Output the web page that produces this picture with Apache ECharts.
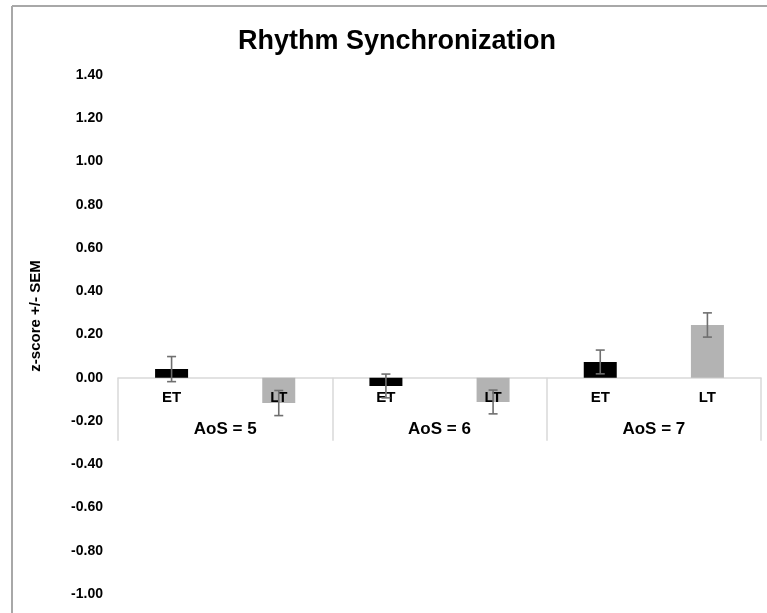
<!DOCTYPE html>
<html>
<head>
<meta charset="utf-8">
<script src="https://cdn.jsdelivr.net/npm/echarts@6/dist/echarts.min.js"></script>
<style>
html,body{margin:0;padding:0;background:#fff;}
#chart{width:767px;height:613px;}
</style>
</head>
<body>
<div id="chart"></div>
<script>
// ---- data ----
var groups = ['AoS = 5', 'AoS = 6', 'AoS = 7'];
var conditions = ['ET', 'LT'];
var etMeans = [0.04, -0.038, 0.073];
var ltMeans = [-0.117, -0.112, 0.244];
var etSem = [0.058, 0.055, 0.055];
var ltSem = [0.058, 0.055, 0.056];
var yMin = -1.0, yMax = 1.4, yStep = 0.2;

var colors = { ET: '#000000', LT: '#b3b3b3' };

// flatten into 6 sub-categories
var cats = [], barData = [], errData = [];
groups.forEach(function (g, gi) {
  conditions.forEach(function (c) {
    var idx = cats.length;
    cats.push(c);
    var m = c === 'ET' ? etMeans[gi] : ltMeans[gi];
    var s = c === 'ET' ? etSem[gi] : ltSem[gi];
    barData.push({ value: m, itemStyle: { color: colors[c] } });
    errData.push([idx, m - s, m + s]);
  });
});

var H = 613;
var gTop = 75, gBottom = 19;
var plotH = H - gTop - gBottom;
var zeroY = gTop + (yMax - 0) / (yMax - yMin) * plotH;

var chart = echarts.init(document.getElementById('chart'));
var font = 'Liberation Sans, Arial, sans-serif';

var option = {
  animation: false,
  title: {
    text: 'Rhythm Synchronization',
    left: 238,
    top: 28,
    padding: 0,
    textStyle: { fontFamily: font, fontSize: 27, fontWeight: 'bold', color: '#000' }
  },
  graphic: [
    { type: 'line', shape: { x1: 12, y1: 6, x2: 767, y2: 6 }, style: { stroke: '#a8a8a8', lineWidth: 2 } },
    { type: 'line', shape: { x1: 12, y1: 6, x2: 12, y2: 613 }, style: { stroke: '#a8a8a8', lineWidth: 2 } },
    {
      type: 'text', x: 36, y: 316, rotation: Math.PI / 2,
      style: { text: 'z-score +/- SEM', fontFamily: font, fontSize: 15, fontWeight: 'bold', fill: '#000', align: 'center', verticalAlign: 'middle' }
    }
  ],
  grid: [
    { left: 118, right: 6, top: gTop, bottom: gBottom, containLabel: false, outerBoundsMode: 'none' },
    { left: 118, right: 6, top: zeroY - 10, bottom: H - zeroY, containLabel: false, outerBoundsMode: 'none' }
  ],
  xAxis: [
    {
      gridIndex: 0, type: 'category', data: cats,
      axisLine: { onZero: true, lineStyle: { color: '#d9d9d9', width: 1.5 } },
      axisTick: { show: false },
      axisLabel: { show: false },
      splitLine: { show: false }
    },
    {
      gridIndex: 1, type: 'category', data: cats, position: 'bottom', z: 3,
      axisLine: { show: false },
      axisTick: { show: false },
      axisLabel: { margin: 13, fontFamily: font, fontSize: 15, fontWeight: 'bold', color: '#000', interval: 0 },
      splitLine: { show: false }
    },
    {
      gridIndex: 1, type: 'category', data: groups, position: 'bottom',
      axisLine: { show: false },
      axisTick: { show: true, length: 63, interval: 0, alignWithLabel: false, lineStyle: { color: '#d9d9d9', width: 1.5 } },
      axisLabel: { margin: 43, fontFamily: font, fontSize: 17, fontWeight: 'bold', color: '#000', interval: 0 },
      splitLine: { show: false }
    }
  ],
  yAxis: [
    {
      gridIndex: 0, type: 'value', min: yMin, max: yMax, interval: yStep,
      axisLine: { show: false }, axisTick: { show: false }, splitLine: { show: false },
      axisLabel: {
        margin: 15, fontFamily: font, fontSize: 14, fontWeight: 'bold', color: '#000',
        formatter: function (v) { return v.toFixed(2); }
      }
    },
    {
      gridIndex: 1, type: 'value', show: false, min: 0, max: 1
    }
  ],
  series: [
    {
      type: 'bar', xAxisIndex: 0, yAxisIndex: 0, data: barData, barWidth: 33, z: 2
    },
    {
      type: 'custom', xAxisIndex: 0, yAxisIndex: 0, z: 5,
      data: errData,
      renderItem: function (params, api) {
        var x = api.value(0);
        var lo = api.coord([x, api.value(1)]);
        var hi = api.coord([x, api.value(2)]);
        var hw = 4.5;
        var st = { stroke: '#6f6f6f', lineWidth: 1.6 };
        return {
          type: 'group',
          children: [
            { type: 'line', shape: { x1: lo[0], y1: lo[1], x2: hi[0], y2: hi[1] }, style: st },
            { type: 'line', shape: { x1: lo[0] - hw, y1: lo[1], x2: lo[0] + hw, y2: lo[1] }, style: st },
            { type: 'line', shape: { x1: hi[0] - hw, y1: hi[1], x2: hi[0] + hw, y2: hi[1] }, style: st }
          ]
        };
      }
    }
  ]
};
chart.setOption(option);
</script>
</body>
</html>
